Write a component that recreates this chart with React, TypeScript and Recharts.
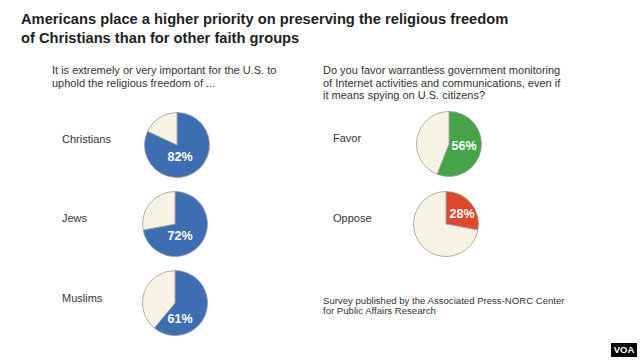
import React from "react";
import { Cell, Pie, PieChart } from "recharts";

const title = [
  "Americans place a higher priority on preserving the religious freedom",
  "of Christians than for other faith groups",
];
const leftQuestion = [
  "It is extremely or very important for the U.S. to",
  "uphold the religious freedom of ...",
];
const rightQuestion = [
  "Do you favor warrantless government monitoring",
  "of Internet activities and communications, even if",
  "it means spying on U.S. citizens?",
];
const source = [
  "Survey published by the Associated Press-NORC Center",
  "for Public Affairs Research",
];

const religionGroups = ["Christians", "Jews", "Muslims"];
const religionValues = [82, 72, 61];
const monitoringAnswers = ["Favor", "Oppose"];
const monitoringValues = [56, 28];

const BLUE = "#3d6db3";
const GREEN = "#45a34a";
const RED = "#e1472a";
const CREAM = "#f6f3e4";
const NARROW = "'Liberation Sans Narrow', 'Arial Narrow', 'Liberation Sans', Arial, sans-serif";
const SANS = "'Liberation Sans', Arial, sans-serif";

// pie centres and where the % label sits relative to the centre
const leftLayout = [
  { cx: 172, cy: 140, dx: 3, dy: 12, ty: 139 },
  { cx: 170, cy: 219, dx: 5, dy: 12, ty: 218 },
  { cx: 170, cy: 298, dx: 5, dy: 16, ty: 298 },
];
const rightLayout = [
  { cx: 444, cy: 139, dx: 15, dy: 2, ty: 138 },
  { cx: 441, cy: 219, dx: 16, dy: -10, ty: 218 },
];

const toSlices = (v: number) => [
  { name: "yes", value: v },
  { name: "rest", value: 100 - v },
];

function Lines({
  lines,
  x,
  y,
  size,
  lh,
  bold,
  family,
}: {
  lines: string[];
  x: number;
  y: number;
  size: number;
  lh: number;
  bold?: boolean;
  family: string;
}) {
  return (
    <div
      style={{
        position: "absolute",
        left: x,
        top: y,
        fontFamily: family,
        fontSize: size,
        lineHeight: `${lh}px`,
        fontWeight: bold ? 700 : 400,
        color: bold ? "#1e1e1e" : "#333",
        whiteSpace: "nowrap",
      }}
    >
      {lines.map((l) => (
        <div key={l}>{l}</div>
      ))}
    </div>
  );
}

function makeLabel(dx: number, dy: number, value: number) {
  return (props: any) => {
    if (props.index !== 0) return null;
    return (
      <text
        x={props.cx + dx}
        y={props.cy + dy}
        textAnchor="middle"
        dominantBaseline="central"
        fill="#fff"
        fontFamily={SANS}
        fontWeight={700}
        fontSize={12.5}
      >
        {value}%
      </text>
    );
  };
}

export default function App() {
  return (
    <div
      style={{
        position: "absolute",
        left: 0,
        top: 0,
        width: 640,
        height: 360,
        background: "#fff",
        overflow: "hidden",
      }}
    >
      <Lines lines={title} x={21} y={10} size={14.7} lh={19} bold family={SANS} />
      <Lines lines={leftQuestion} x={52} y={64} size={11} lh={13} family={NARROW} />
      <Lines lines={rightQuestion} x={323} y={64} size={11} lh={12.5} family={NARROW} />
      <Lines lines={source} x={323} y={296} size={9.6} lh={10} family={NARROW} />

      {religionGroups.map((g, i) => (
        <div
          key={g}
          style={{
            position: "absolute",
            left: 62,
            top: leftLayout[i].ty - 7,
            fontFamily: NARROW,
            fontSize: 11,
            lineHeight: "14px",
            color: "#333",
          }}
        >
          {g}
        </div>
      ))}
      {monitoringAnswers.map((g, i) => (
        <div
          key={g}
          style={{
            position: "absolute",
            left: 333,
            top: rightLayout[i].ty - 7,
            fontFamily: NARROW,
            fontSize: 11,
            lineHeight: "14px",
            color: "#333",
          }}
        >
          {g}
        </div>
      ))}

      <div style={{ position: "absolute", left: 0, top: 0 }}>
        <PieChart width={640} height={360}>
          {religionValues.map((v, i) => (
            <Pie
              key={religionGroups[i]}
              data={toSlices(v)}
              dataKey="value"
              cx={leftLayout[i].cx}
              cy={leftLayout[i].cy}
              outerRadius={32.5}
              startAngle={90}
              endAngle={-270}
              isAnimationActive={false}
              labelLine={false}
              label={makeLabel(leftLayout[i].dx, leftLayout[i].dy, v)}
            >
              <Cell fill={BLUE} stroke="#9c9c9c" strokeWidth={0.8} />
              <Cell fill={CREAM} stroke="#9c9c9c" strokeWidth={0.8} />
            </Pie>
          ))}
          {monitoringValues.map((v, i) => (
            <Pie
              key={monitoringAnswers[i]}
              data={toSlices(v)}
              dataKey="value"
              cx={rightLayout[i].cx}
              cy={rightLayout[i].cy}
              outerRadius={32.5}
              startAngle={90}
              endAngle={-270}
              isAnimationActive={false}
              labelLine={false}
              label={makeLabel(rightLayout[i].dx, rightLayout[i].dy, v)}
            >
              <Cell fill={i === 0 ? GREEN : RED} stroke="#9c9c9c" strokeWidth={0.8} />
              <Cell fill={CREAM} stroke="#9c9c9c" strokeWidth={0.8} />
            </Pie>
          ))}
        </PieChart>
      </div>

      <div
        style={{
          position: "absolute",
          left: 611,
          top: 343,
          width: 26,
          height: 14,
          background: "#000",
          color: "#fff",
          fontFamily: SANS,
          fontWeight: 700,
          fontSize: 9.5,
          lineHeight: "14px",
          textAlign: "center",
        }}
      >
        VOA
      </div>
    </div>
  );
}
